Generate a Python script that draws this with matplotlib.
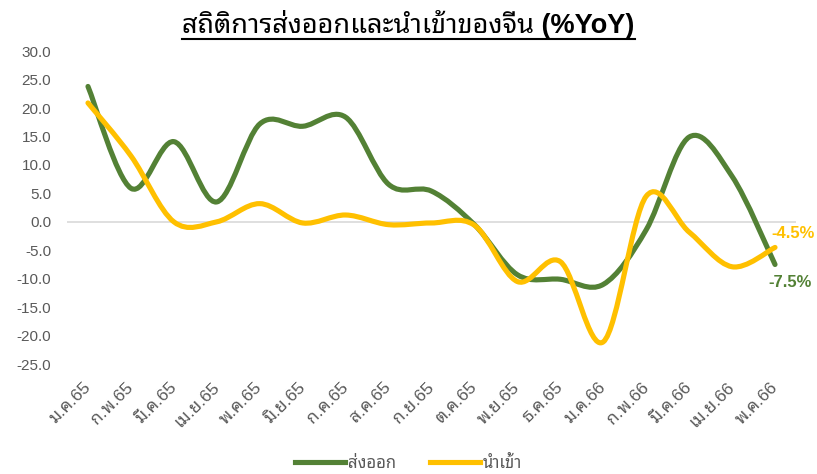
import matplotlib
matplotlib.use("Agg")
import matplotlib.pyplot as plt
import matplotlib.transforms as mtransforms
from matplotlib.path import Path
from matplotlib.patches import PathPatch
from matplotlib.lines import Line2D
from matplotlib.ticker import FuncFormatter

plt.rcParams['font.family'] = ['Liberation Sans', 'Noto Sans Thai Looped']

months = ["ม.ค.65", "ก.พ.65", "มี.ค.65", "เม.ย.65", "พ.ค.65", "มิ.ย.65", "ก.ค.65",
          "ส.ค.65", "ก.ย.65", "ต.ค.65", "พ.ย.65", "ธ.ค.65", "ม.ค.66", "ก.พ.66",
          "มี.ค.66", "เม.ย.66", "พ.ค.66"]
exports = [23.8, 5.9, 14.1, 3.5, 17.2, 16.8, 18.4, 6.6, 5.4, -0.5, -9.3, -10.1,
           -11.0, -1.4, 14.9, 8.0, -7.5]
imports = [20.9, 11.6, 0.0, 0.0, 3.2, -0.2, 1.2, -0.5, -0.2, -0.6, -10.5, -7.0,
           -21.1, 4.5, -1.8, -7.9, -4.5]

GREEN = "#538135"
YELLOW = "#FFC000"


def smooth_path(xs, ys):
    # excel style smoothed line: bezier segments with catmull-rom control points
    pts = list(zip(xs, ys))
    verts = [pts[0]]
    codes = [Path.MOVETO]
    n = len(pts)
    for i in range(n - 1):
        p0 = pts[i - 1] if i > 0 else pts[i]
        p1 = pts[i]
        p2 = pts[i + 1]
        p3 = pts[i + 2] if i + 2 < n else pts[i + 1]
        c1 = (p1[0] + (p2[0] - p0[0]) / 6, p1[1] + (p2[1] - p0[1]) / 6)
        c2 = (p2[0] - (p3[0] - p1[0]) / 6, p2[1] - (p3[1] - p1[1]) / 6)
        verts += [c1, c2, p2]
        codes += [Path.CURVE4] * 3
    return Path(verts, codes)


fig = plt.figure(figsize=(8.17, 4.74), dpi=100)
ax = fig.add_axes([0.0814, 0.232, 0.8935, 0.660])

x = list(range(len(months)))
ax.axhline(0, color="#D9D9D9", lw=1.2, zorder=1)
for vals, col in [(exports, GREEN), (imports, YELLOW)]:
    ax.add_patch(PathPatch(smooth_path(x, vals), facecolor="none", edgecolor=col,
                           lw=3.7, capstyle="round", joinstyle="round", zorder=3))

ax.set_xlim(-0.5, len(months) - 0.5)
ax.set_ylim(-25, 30)
ax.set_yticks(range(-25, 31, 5))
ax.yaxis.set_major_formatter(FuncFormatter(lambda v, p: f"{v:.1f}"))
ax.set_xticks(x)
ax.set_xticklabels(months, rotation=45, ha="right", va="center", rotation_mode="anchor")
shift = mtransforms.ScaledTranslation(4 / 100, -3 / 100, fig.dpi_scale_trans)
for lab in ax.get_xticklabels():
    lab.set_transform(lab.get_transform() + shift)
ax.tick_params(axis="y", length=0, pad=11, labelsize=11, labelcolor="#595959")
ax.tick_params(axis="x", length=0, pad=15, labelsize=12.5, labelcolor="#595959")
for s in ax.spines.values():
    s.set_visible(False)

ax.annotate(f"{imports[-1]:.1f}%", (x[-1], imports[-1]), xytext=(13, 10),
            textcoords="offset points", color=YELLOW, fontsize=12,
            fontweight="bold", ha="center", va="center")
ax.annotate(f"{exports[-1]:.1f}%", (x[-1], exports[-1]), xytext=(11, -13),
            textcoords="offset points", color=GREEN, fontsize=12,
            fontweight="bold", ha="center", va="center")

handles = [Line2D([], [], color=GREEN, lw=3.7), Line2D([], [], color=YELLOW, lw=3.7)]
fig.legend(handles, ["ส่งออก", "นำเข้า"], loc="lower center", bbox_to_anchor=(0.5, -0.025),
           ncol=2, frameon=False, fontsize=12, handlelength=3.0, handletextpad=0.2,
           columnspacing=2.0, labelcolor="#595959")

title = fig.text(0.5, 0.930, "สถิติการส่งออกและนำเข้าของจีน (%YoY)", ha="center",
                 va="baseline", fontsize=19.5, fontweight="bold", color="black")
fig.canvas.draw()
bb = title.get_window_extent().transformed(fig.transFigure.inverted())
uy = 0.930 - 0.013
fig.add_artist(Line2D([bb.x0, bb.x1], [uy, uy], transform=fig.transFigure,
                      color="black", lw=1.5))

fig.savefig("out.png", dpi=100)
